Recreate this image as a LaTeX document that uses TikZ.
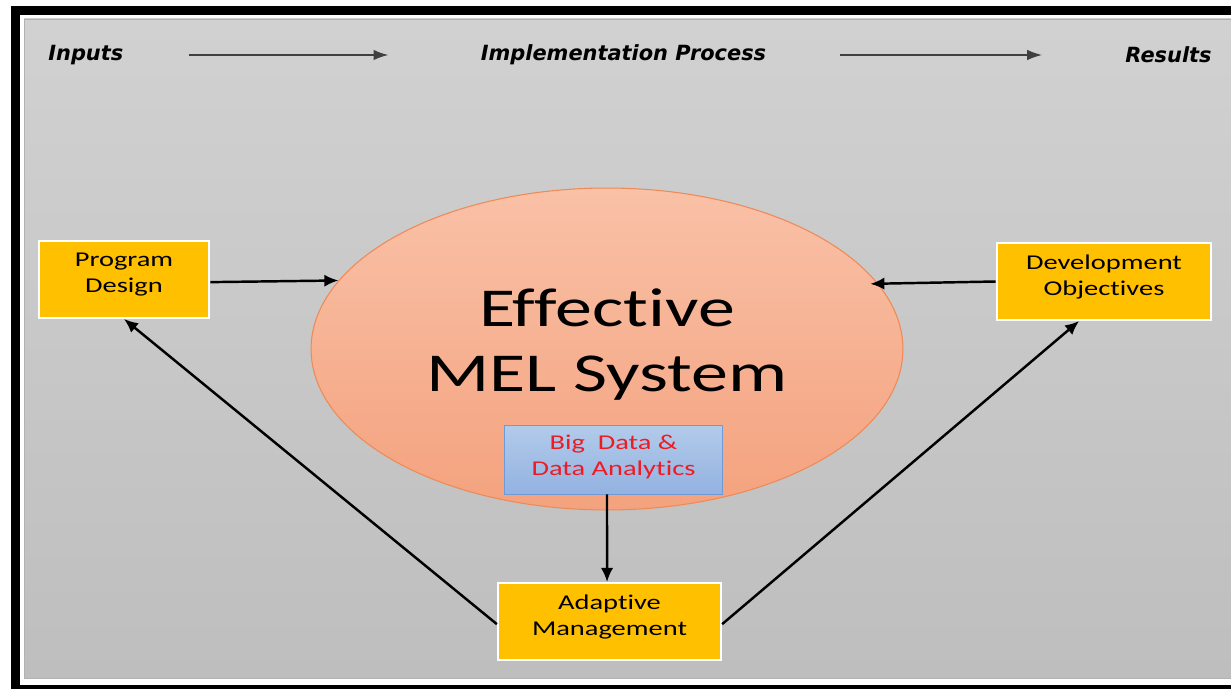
\documentclass[tikz,border=0pt]{standalone}
\usepackage{fontspec}
\newfontfamily\carlito[Ligatures=NoCommon]{Carlito}
\newfontfamily\dejavu{DejaVu Sans}
\usetikzlibrary{shapes.geometric,arrows.meta}
\definecolor{boxyellow}{HTML}{FFC000}
\definecolor{melTop}{HTML}{F9C1A7}
\definecolor{melBot}{HTML}{F4A27E}
\definecolor{melLine}{HTML}{EE8A55}
\definecolor{bdTop}{HTML}{B3CBEA}
\definecolor{bdBot}{HTML}{93B2E1}
\definecolor{bdLine}{HTML}{6F9AD6}
\definecolor{bdText}{RGB}{237,28,36}

\begin{document}
\begin{tikzpicture}[x=0.02cm,y=-0.02cm,
  box/.style={draw=white,line width=1.1pt,fill=boxyellow,xscale=1.35,align=center,
    font=\carlito\fontsize{12}{14.7}\selectfont,minimum height=1.54cm,inner sep=0pt,
    text depth=7.4pt},
  bdbox/.style={box,draw=bdLine,line width=0.5pt,top color=bdTop,bottom color=bdBot,
    text=bdText,minimum height=1.38cm,text depth=5.1pt},
  head/.style={font=\dejavu\bfseries\itshape\fontsize{11.9}{14}\selectfont,inner sep=0pt},
  hdarr/.style={line width=1pt,draw=black!75,-{Latex[length=8.5pt,width=6pt]}},
  arr/.style={line width=1.4pt,-{Latex[length=8pt,width=7pt]}}]
\clip (0,0) rectangle (1231,689);
% frame and background
\fill (11,6) rectangle (1260,700);
\fill[white] (20,15) rectangle (1260,685);
\shade[top color=black!18,bottom color=black!25.5,draw=black!30] (24,19) rectangle (1260,678);

% header
\node[head,anchor=west] (inputs) at (48,55) {Inputs};
\node[head] (impl) at (623.5,55) {Implementation Process};
\node[head,anchor=east] (results) at (1212,55) {Results};
\draw[hdarr,shorten <=1.3cm,shorten >=1.84cm] (inputs.east) -- (impl.west);
\draw[hdarr,shorten <=1.46cm,shorten >=1.66cm] (impl.east) -- (results.west);

% centre
\node[ellipse,xscale=1.35,minimum width=8.77cm,minimum height=6.44cm,inner sep=0pt,
  top color=melTop,bottom color=melBot,draw=melLine,line width=0.6pt,align=center,
  font=\carlito\fontsize{31.2}{37}\selectfont,text depth=10pt] (mel) at (607,349) {Effective\\MEL System};
\node[bdbox,minimum width=3.24cm] (bigdata) at (613.5,459.5) {Big\ \ Data \&\\Data Analytics};

% boxes
\node[box,minimum width=2.52cm] (pd) at (124,279.5) {Program\\Design};
\node[box,minimum width=3.17cm] (do) at (1104,281.5) {Development\\Objectives};
\node[box,minimum width=3.30cm] (am) at (609.5,621.5) {Adaptive\\Management};

% connectors
\draw[arr] ([yshift=-1.5pt]pd.east) -- (mel.161);
\draw[arr,shorten >=-0.16cm] (do.west) -- (mel.18);
\draw[arr] ([xshift=-3.7pt]bigdata.south) -- ([xshift=-1.4pt]am.north);
\draw[arr] ([yshift=-1.5pt]am.west) -- (pd.south);
\draw[arr] ([yshift=-1.5pt]am.east) -- (do.245);
\end{tikzpicture}
\end{document}
